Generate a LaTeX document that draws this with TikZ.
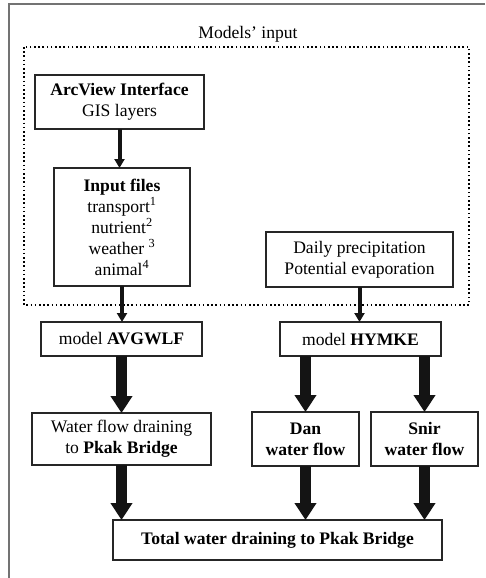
\documentclass[tikz,border=0pt]{standalone}
\usepackage{fontspec}
\setmainfont{Liberation Serif}
\usetikzlibrary{arrows.meta}
\begin{document}
\begin{tikzpicture}[x=1pt,y=-1pt,
  box/.style={draw=black!85,line width=1.1pt,inner sep=0pt,outer sep=0pt,align=center,
    font=\fontsize{17.6}{21}\selectfont},
  thinarrow/.style={draw=black!92,line width=4pt,-{Triangle[width=10pt,length=9pt]}},
  thickarrow/.style={draw=black!92,line width=11pt,-{Triangle[width=21pt,length=17pt]}},
  frame/.style={draw=black!55,line width=1.4pt},
  dotbox/.style={draw=black,line width=1.6pt,dash pattern=on 1.6pt off 2.6pt}]
\useasboundingbox (0,0) rectangle (485,578);
% outer frame (partial)
\draw[frame] (485,4) -- (9,4) -- (9,578);
% dotted input region
\draw[dotbox] (24,47) rectangle (469,305);
\node[font=\fontsize{17.6}{21}\selectfont] (lbl) at (248,34) {Models’ input};
% nodes
\node[box,minimum width=169pt,minimum height=54pt] (arc) at (119.5,102) {\textbf{ArcView Interface}\\GIS layers};
\node[box,minimum width=136pt,minimum height=118pt] (inp) at (122,227)
  {\textbf{Input files}\\transport\textsuperscript{1}\\nutrient\textsuperscript{2}\\weather \textsuperscript{3}\\animal\textsuperscript{4}};
\node[box,minimum width=187pt,minimum height=55pt] (daily) at (359.5,259.5) {Daily precipitation\\Potential evaporation};
\node[box,minimum width=161pt,minimum height=34pt] (avg) at (121.5,339) {model \textbf{AVGWLF}};
\node[box,minimum width=161pt,minimum height=34pt] (hym) at (360.5,339) {model \textbf{HYMKE}};
\node[box,minimum width=179pt,minimum height=52pt] (wat) at (121.5,439) {Water flow draining\\to \textbf{Pkak Bridge}};
\node[box,minimum width=107pt,minimum height=54pt] (dan) at (305.5,439) {\textbf{Dan}\\\textbf{water flow}};
\node[box,minimum width=107pt,minimum height=54pt] (snir) at (424.5,439) {\textbf{Snir}\\\textbf{water flow}};
\node[box,minimum width=329pt,minimum height=40pt] (tot) at (277.5,540) {\textbf{Total water draining to Pkak Bridge}};
% connectors
\draw[thinarrow] (arc.south) -- (arc.south |- inp.north);
\draw[thinarrow] (inp.south) -- (inp.south |- avg.north);
\draw[thinarrow] (daily.south) -- (daily.south |- hym.north);
\draw[thickarrow] (avg.south) -- (avg.south |- wat.north);
\draw[thickarrow] (dan.north |- hym.south) -- (dan.north);
\draw[thickarrow] (snir.north |- hym.south) -- (snir.north);
\draw[thickarrow] (wat.south) -- (wat.south |- tot.north);
\draw[thickarrow] (dan.south) -- (dan.south |- tot.north);
\draw[thickarrow] (snir.south) -- (snir.south |- tot.north);
\end{tikzpicture}
\end{document}
